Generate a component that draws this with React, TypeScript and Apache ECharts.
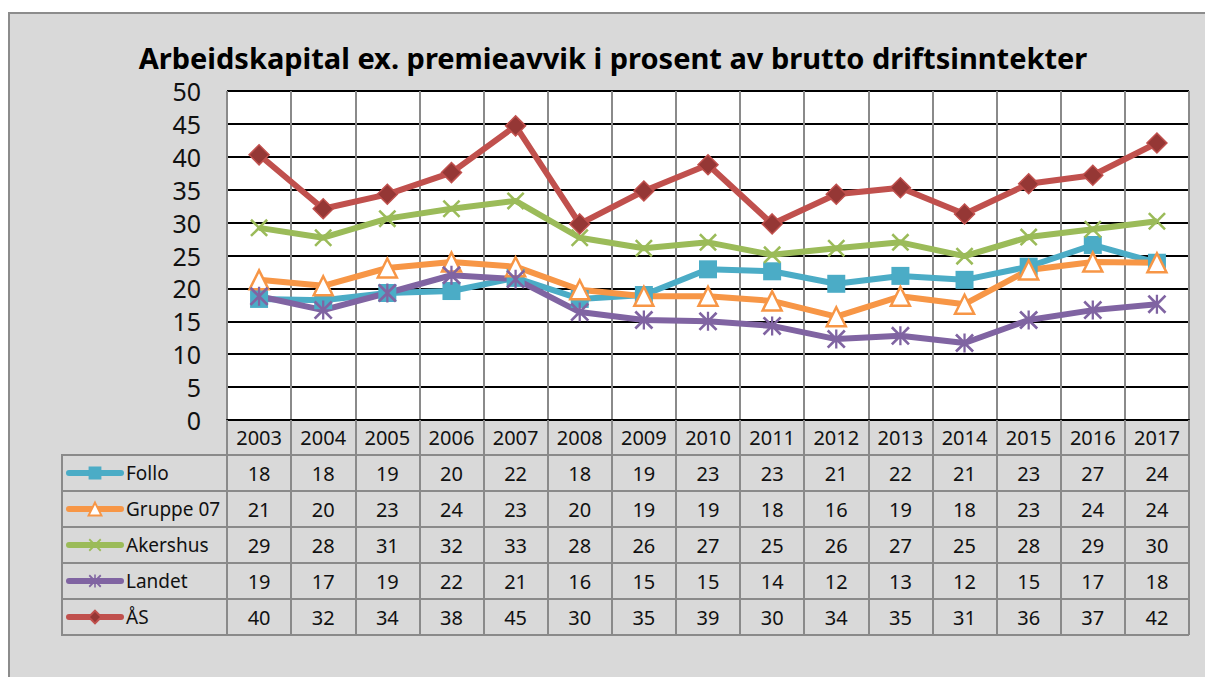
import React, { useEffect, useRef } from 'react';
import * as echarts from 'echarts';

const years = ['2003', '2004', '2005', '2006', '2007', '2008', '2009', '2010', '2011', '2012', '2013', '2014', '2015', '2016', '2017'];
const seriesNames = ['Follo', 'Gruppe 07', 'Akershus', 'Landet', 'ÅS'];
const follo = [18.4, 18.2, 19.3, 19.6, 21.6, 18.4, 19.0, 22.9, 22.6, 20.7, 21.9, 21.3, 23.3, 26.6, 23.9];
const gruppe07 = [21.3, 20.4, 23.1, 24.0, 23.3, 19.8, 18.8, 18.8, 18.1, 15.7, 18.8, 17.6, 22.8, 24.0, 23.9];
const akershus = [29.2, 27.7, 30.6, 32.1, 33.3, 27.7, 26.1, 27.0, 25.1, 26.1, 27.0, 24.9, 27.8, 29.0, 30.2];
const landet = [18.8, 16.7, 19.3, 22.0, 21.4, 16.4, 15.2, 15.0, 14.3, 12.3, 12.8, 11.7, 15.2, 16.7, 17.6];
const aas = [40.3, 32.1, 34.3, 37.6, 44.7, 29.8, 34.8, 38.8, 29.8, 34.3, 35.3, 31.3, 35.9, 37.2, 42.1];
const yMin = 0;
const yMax = 50;
const yStep = 5;
const title = 'Arbeidskapital ex. premieavvik i prosent av brutto driftsinntekter';

const FONT = '"Noto Sans", "Open Sans", sans-serif';
const GRAY = '#8a8a8a';
const xPath = 'path://M0,1L1,0L5,4L9,0L10,1L6,5L10,9L9,10L5,6L1,10L0,9L4,5Z';
const starPath = 'path://M0,1L1,0L5,4L9,0L10,1L6,5L10,9L9,10L5,6L1,10L0,9L4,5ZM4.4,0L5.6,0L5.6,10L4.4,10Z';

export default function App() {
  const ref = useRef<HTMLDivElement>(null);
  useEffect(() => {
    if (!ref.current) return;
    const chart = echarts.init(ref.current, undefined, { renderer: 'svg' });
    const rows = [follo, gruppe07, akershus, landet, aas];
    const tableAxes = rows.map((vals, k) => ({
      type: 'category',
      data: years,
      gridIndex: 0,
      position: 'bottom',
      offset: 35 + 36 * k,
      boundaryGap: true,
      axisLine: { show: true, lineStyle: { color: GRAY, width: 2 } },
      axisTick: { show: true, length: 36, interval: 0, lineStyle: { color: GRAY, width: 2 } },
      axisLabel: {
        show: true, interval: 0, margin: 18, fontSize: 20, color: '#111', fontFamily: FONT,
        verticalAlign: 'middle',
        formatter: (_v: string, i: number) => String(Math.round(vals[i])),
      },
      splitLine: { show: false },
    }));
    const lines: any[] = [];
    const rowYs = [455, 491, 527, 563, 599, 635];
    rowYs.forEach((y) => {
      lines.push({ type: 'line', shape: { x1: 62, y1: y, x2: 228, y2: y }, style: { stroke: GRAY, lineWidth: 2 } });
    });
    lines.push({ type: 'line', shape: { x1: 62, y1: 635, x2: 1189, y2: 635 }, style: { stroke: GRAY, lineWidth: 2 } });
    lines.push({ type: 'line', shape: { x1: 62, y1: 454, x2: 62, y2: 636 }, style: { stroke: GRAY, lineWidth: 2 } });

    const mk = (name: string, data: number[], color: string, symbol: string, size: number) => ({
      name, type: 'line', data, symbol, symbolSize: size, showSymbol: true,
      lineStyle: { color, width: 6 },
      itemStyle: { color },
      emphasis: { disabled: true },
    });

    chart.setOption({
      animation: false,
      graphic: [
        {
          type: 'text', x: 613, y: 57,
          style: { text: title, fontSize: 29, fontWeight: 'bold', fontFamily: FONT, fill: '#000', align: 'center', verticalAlign: 'middle' },
        },
        ...lines,
      ],
      grid: { left: 227, right: 16, top: 91, bottom: 257, show: true, backgroundColor: '#fff', borderWidth: 0 },
      legend: {
        data: seriesNames,
        orient: 'vertical',
        left: 66, top: 463, padding: 0,
        itemWidth: 52, itemHeight: 16, itemGap: 16,
        lineStyle: { width: 6, cap: 'round' },
        textStyle: { fontSize: 19, lineHeight: 20, color: '#111', fontFamily: FONT },
        selectedMode: false,
      },
      xAxis: [
        {
          type: 'category', data: years, gridIndex: 0, position: 'bottom', boundaryGap: true,
          axisLine: { show: true, lineStyle: { color: '#000', width: 2 } },
          axisTick: { show: true, length: 35, interval: 0, lineStyle: { color: GRAY, width: 2 } },
          axisLabel: { interval: 0, margin: 17, fontSize: 20, color: '#111', fontFamily: FONT, verticalAlign: 'middle' },
          splitLine: { show: true, interval: 0, lineStyle: { color: GRAY, width: 2 } },
        },
        ...tableAxes,
      ],
      yAxis: {
        type: 'value', min: yMin, max: yMax, interval: yStep,
        axisLine: { show: false },
        axisTick: { show: false },
        axisLabel: { fontSize: 25, color: '#111', fontFamily: FONT, margin: 26 },
        splitLine: { show: true, lineStyle: { color: '#000', width: 2 } },
      },
      series: [
        mk('Follo', follo, '#4BACC6', 'rect', 18),
        { ...mk('Gruppe 07', gruppe07, '#F79646', 'triangle', 19), itemStyle: { color: '#fff', borderColor: '#F79646', borderWidth: 2.5 } },
        mk('Akershus', akershus, '#9BBB59', xPath, 18),
        mk('Landet', landet, '#8064A2', starPath, 19),
        { ...mk('ÅS', aas, '#C0504D', 'diamond', 20), itemStyle: { color: '#953735', borderColor: '#C0504D', borderWidth: 1.5 } },
      ],
    } as any);
    return () => chart.dispose();
  }, []);
  return (
    <div style={{ position: 'fixed', left: 0, top: 0, width: 1205, height: 677, overflow: 'hidden', background: '#fff' }}>
      <div style={{ position: 'absolute', left: 8, top: 12, width: 1300, height: 800, background: '#d9d9d9', border: '2px solid #8c8c8c' }} />
      <div ref={ref} style={{ position: 'absolute', left: 0, top: 0, width: 1205, height: 677 }} />
    </div>
  );
}
